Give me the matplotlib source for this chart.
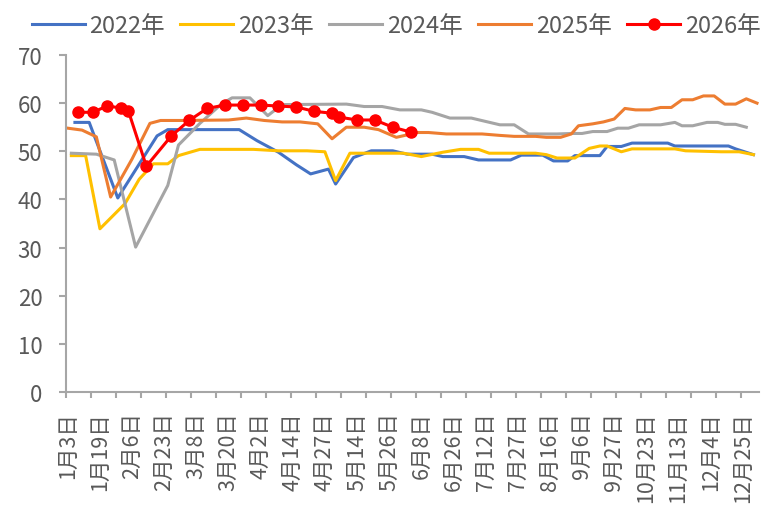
import matplotlib
matplotlib.use("Agg")
import matplotlib.pyplot as plt
from matplotlib.ticker import FixedLocator, NullFormatter

plt.rcParams['font.family'] = ['Noto Sans CJK SC', 'DejaVu Sans']

# category axis: 194 observation dates, labelled every 9th one
n_cat = 194
x_labels = ['1月3日', '1月19日', '2月6日', '2月23日', '3月8日', '3月20日', '4月2日', '4月14日',
            '4月27日', '5月14日', '5月26日', '6月8日', '6月26日', '7月12日', '7月27日', '8月16日',
            '9月6日', '9月27日', '10月23日', '11月13日', '12月4日', '12月25日']

# each series: category index of the point, value
x_2022 = [2, 6, 14, 25, 28, 48, 53, 59, 64, 68, 73, 75, 80, 85, 91, 95, 102, 105, 111, 115, 124,
          127, 133, 136, 140, 142, 149, 151, 155, 158, 168, 170, 185, 187, 192]
v_2022 = [56.0, 56.0, 40.3, 53.2, 54.5, 54.5, 52.2, 49.8, 47.2, 45.3, 46.3, 43.2, 48.7, 50.1, 50.1,
          49.4, 49.4, 48.9, 48.9, 48.2, 48.2, 49.2, 49.2, 48.0, 48.0, 49.1, 49.1, 51.0, 51.0, 51.7,
          51.7, 51.1, 51.1, 50.5, 49.3]

x_2023 = [1, 5, 9, 16, 20, 24, 28, 31, 37, 52, 59, 67, 72, 75, 79, 86, 94, 99, 105, 110, 115, 118,
          124, 131, 134, 137, 142, 146, 149, 151, 155, 158, 170, 173, 183, 188, 192]
v_2023 = [49.1, 49.1, 33.9, 39.1, 44.2, 47.4, 47.4, 49.1, 50.4, 50.4, 50.1, 50.1, 49.9, 43.9, 49.6,
          49.6, 49.6, 48.9, 49.8, 50.4, 50.4, 49.6, 49.6, 49.6, 49.3, 48.6, 48.6, 50.6, 51.1, 51.1,
          49.9, 50.5, 50.5, 50.1, 49.9, 49.9, 49.3]

x_2024 = [1, 8, 13, 19, 28, 31, 37, 43, 46, 51, 56, 60, 78, 83, 88, 93, 99, 102, 107, 113, 117, 121,
          125, 129, 137, 141, 144, 147, 151, 154, 157, 160, 166, 170, 172, 175, 179, 182, 184, 187, 190]
v_2024 = [49.6, 49.4, 48.2, 30.1, 42.9, 51.3, 55.8, 59.8, 61.1, 61.1, 57.4, 59.7, 59.8, 59.3, 59.3,
          58.6, 58.6, 58.1, 56.9, 56.9, 56.2, 55.5, 55.5, 53.6, 53.6, 53.7, 53.7, 54.1, 54.1, 54.8,
          54.8, 55.5, 55.5, 56.0, 55.3, 55.3, 56.0, 56.0, 55.6, 55.6, 55.0]

x_2025 = [0, 4, 8, 12, 18, 23, 26, 32, 45, 50, 55, 60, 65, 70, 74, 78, 83, 87, 92, 95, 97, 101, 106,
          116, 121, 125, 131, 134, 138, 141, 143, 147, 150, 153, 156, 159, 163, 166, 169, 172, 175,
          178, 181, 184, 187, 190, 193]
v_2025 = [54.8, 54.4, 53.0, 40.5, 48.4, 55.8, 56.4, 56.4, 56.5, 56.9, 56.4, 56.1, 56.1, 55.7, 52.6,
          55.0, 55.0, 54.5, 52.9, 53.4, 53.9, 53.9, 53.6, 53.6, 53.3, 53.1, 53.1, 52.9, 52.9, 53.6,
          55.3, 55.7, 56.1, 56.7, 58.9, 58.6, 58.6, 59.1, 59.1, 60.7, 60.7, 61.5, 61.5, 59.8, 59.8,
          60.9, 60.0]

x_2026 = [3, 7, 11, 15, 17, 22, 29, 34, 39, 44, 49, 54, 59, 64, 69, 74, 76, 81, 86, 91, 96]
v_2026 = [58.1, 58.1, 59.4, 59.0, 58.3, 46.9, 53.2, 56.4, 58.9, 59.6, 59.6, 59.6, 59.4, 59.2, 58.3,
          57.9, 57.1, 56.5, 56.5, 55.0, 54.0]

fig = plt.figure(figsize=(7.62, 5.06), dpi=100)
ax = fig.add_axes([66 / 762, 113 / 506, 692.8 / 762, 337 / 506])

lw = 2.2
ax.plot(x_2022, v_2022, color='#4472C4', lw=lw, label='2022年')
ax.plot(x_2023, v_2023, color='#FFC000', lw=lw, label='2023年')
ax.plot(x_2024, v_2024, color='#A5A5A5', lw=lw, label='2024年')
ax.plot(x_2025, v_2025, color='#ED7D31', lw=lw, label='2025年')
ax.plot(x_2026, v_2026, color='#FF0000', lw=lw, marker='o', markersize=8, label='2026年')

ax.set_xlim(-0.5, n_cat - 0.5)
ax.set_ylim(0, 70)
ax.set_yticks(range(0, 71, 10))

# tick marks every 7 categories, labels every 9
ax.xaxis.set_major_locator(FixedLocator([-0.5 + 7 * k for k in range(28)]))
ax.xaxis.set_major_formatter(NullFormatter())
ax.xaxis.set_minor_locator(FixedLocator([9 * i for i in range(len(x_labels))]))
ax.set_xticklabels(x_labels, minor=True, rotation=90)

grey = '#A6A6A6'
for s in ['top', 'right']:
    ax.spines[s].set_visible(False)
for s in ['left', 'bottom']:
    ax.spines[s].set_color(grey)
    ax.spines[s].set_linewidth(1.5)

ax.tick_params(axis='y', length=5, width=1.5, color=grey, pad=12, labelsize=16, labelcolor='#595959')
ax.tick_params(axis='x', which='major', length=4.5, width=1.5, color=grey)
ax.tick_params(axis='x', which='minor', length=0, pad=14, labelsize=15.5, labelcolor='#595959')

leg = fig.legend(loc='center', bbox_to_anchor=(0.52, 0.947), ncol=5, frameon=False, fontsize=17,
                 handlelength=2.25, handletextpad=0.2, columnspacing=0.65, borderaxespad=0)
for t in leg.get_texts():
    t.set_color('#595959')

fig.savefig('out.png', dpi=100)
